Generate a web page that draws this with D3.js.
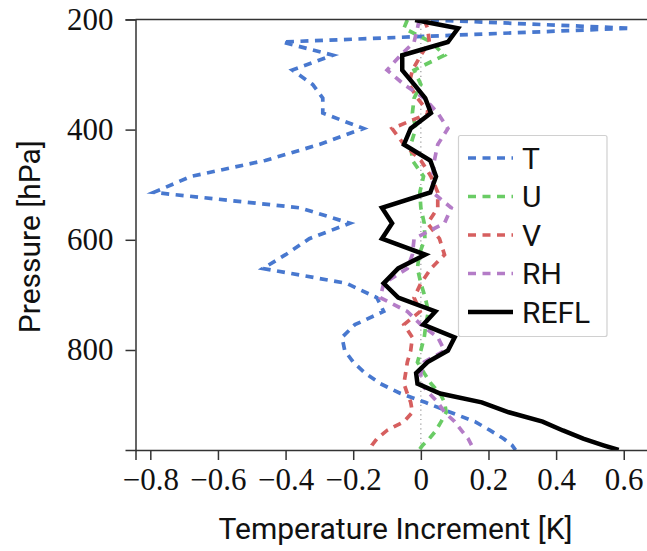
<!DOCTYPE html>
<html>
<head>
<meta charset="utf-8">
<script src="https://cdn.jsdelivr.net/npm/d3@7"></script>
<style>
  html, body { margin: 0; padding: 0; background: #fff; }
  svg { display: block; }
</style>
</head>
<body>
<div id="chart"></div>
<script>
// ---- data ----
const pressure = [201, 216, 241, 265, 292, 318, 343, 370, 398, 427, 456, 485, 514, 542, 570, 598, 627, 652, 679, 705, 730, 754, 777, 801, 822, 842, 861, 879, 895, 913, 930, 946, 961, 973, 981.5];
const T    = [0.03, 0.62, -0.41, -0.26, -0.38, -0.32, -0.29, -0.29, -0.17, -0.30, -0.46, -0.68, -0.79, -0.357, -0.21, -0.33, -0.40, -0.467, -0.22, -0.13, -0.11, -0.195, -0.233, -0.225, -0.20, -0.165, -0.12, -0.06, 0.013, 0.087, 0.16, 0.205, 0.245, 0.27, 0.28];
const U    = [-0.04, -0.05, 0.03, 0.07, -0.02, 0.0, -0.02, -0.025, -0.015, -0.03, -0.025, 0.008, -0.003, 0.0, 0.01, 0.012, -0.005, -0.01, 0.0, 0.013, 0.022, 0.015, 0.01, 0.0, -0.01, 0.01, 0.03, 0.057, 0.07, 0.075, 0.06, 0.045, 0.025, 0.005, -0.005];
const V    = [0.01, 0.02, 0.025, 0.0, -0.025, -0.035, -0.01, 0.025, -0.085, -0.05, 0.0, 0.03, 0.05, 0.05, 0.02, 0.055, 0.07, 0.03, 0.0, -0.02, -0.002, -0.05, -0.025, -0.03, -0.04, -0.045, -0.05, -0.04, -0.03, -0.025, -0.05, -0.10, -0.13, -0.145, -0.15];
const RH   = [-0.005, -0.01, -0.02, -0.06, -0.10, -0.05, 0.01, 0.05, 0.08, 0.05, 0.04, 0.035, 0.035, 0.09, 0.07, -0.02, -0.025, -0.04, -0.11, -0.12, -0.04, 0.0, 0.05, 0.07, 0.01, 0.0, 0.0, 0.025, 0.05, 0.07, 0.10, 0.12, 0.14, 0.15, 0.15];
const REFL = [-0.017, 0.11, 0.08, -0.055, -0.055, -0.02, 0.013, 0.03, -0.03, -0.05, 0.028, 0.045, 0.028, -0.115, -0.085, -0.115, 0.013, -0.067, -0.11, -0.067, 0.043, 0.007, 0.10, 0.08, 0.02, -0.014, -0.01, 0.057, 0.18, 0.26, 0.36, 0.42, 0.48, 0.54, 0.585];
const seriesNames = ["T", "U", "V", "RH", "REFL"];
const xTicks = [-0.8, -0.6, -0.4, -0.2, 0, 0.2, 0.4, 0.6];
const yTicks = [200, 400, 600, 800];

// ---- layout ----
const W = 647, H = 551;
const mLeft = 135.5, mTop = 19.4, mBottom = 450;
const svg = d3.select("#chart").append("svg").attr("width", W).attr("height", H);

const x = d3.scaleLinear().domain([-0.8438, 0.68]).range([mLeft, 650.8]);
const y = d3.scaleLinear().domain([200, 981.5]).range([mTop, mBottom]);

const colors = { T: "#4878CF", U: "#6ACC65", V: "#D65F5F", RH: "#B47CC7", REFL: "#000000" };
const dataBy = { T, U, V, RH, REFL };
const dash = "8,6.5";

svg.append("defs").append("clipPath").attr("id", "clip")
  .append("rect").attr("x", mLeft).attr("y", mTop).attr("width", W - mLeft).attr("height", mBottom - mTop);

// zero reference line
svg.append("line")
  .attr("x1", x(0)).attr("x2", x(0)).attr("y1", mTop).attr("y2", mBottom)
  .attr("stroke", "#999").attr("stroke-width", 1.2).attr("stroke-dasharray", "1.2,3.5");

const line = d3.line().x(d => x(d[0])).y(d => y(d[1]));
const g = svg.append("g").attr("clip-path", "url(#clip)");
seriesNames.forEach(name => {
  const pts = dataBy[name].map((v, i) => [v, pressure[i]]);
  const p = g.append("path").datum(pts).attr("d", line)
    .attr("fill", "none").attr("stroke", colors[name])
    .attr("stroke-linejoin", "miter");
  if (name === "REFL") p.attr("stroke-width", 4.5);
  else p.attr("stroke-width", 3.7).attr("stroke-dasharray", dash);
});

// axes
const xAxis = d3.axisBottom(x).tickValues(xTicks).tickSize(10).tickPadding(6)
  .tickFormat(d => d === 0 ? "0" : (d < 0 ? "\u2212" : "") + Math.abs(d).toFixed(1));
const yAxis = d3.axisLeft(y).tickValues(yTicks).tickSize(10).tickPadding(12).tickFormat(d3.format("d"));

const gx = svg.append("g").attr("transform", `translate(0,${mBottom})`).call(xAxis);
const gy = svg.append("g").attr("transform", `translate(${mLeft},0)`).call(yAxis);
[gx, gy].forEach(a => {
  a.select(".domain").attr("stroke", "#333").attr("stroke-width", 1.5);
  a.selectAll(".tick line").attr("stroke", "#333").attr("stroke-width", 1.5);
  a.selectAll(".tick text").attr("fill", "#111")
    .style("font-family", "'Liberation Serif', 'DejaVu Serif', serif").style("font-size", "31px");
});
gx.selectAll(".tick text").attr("dy", "0.76em");
// top spine
svg.append("line").attr("x1", mLeft).attr("x2", W).attr("y1", mTop).attr("y2", mTop)
  .attr("stroke", "#333").attr("stroke-width", 1.5);

// axis titles
svg.append("text").attr("x", (208 + 583) / 2).attr("y", 539).attr("text-anchor", "middle")
  .style("font-family", "Roboto, sans-serif").style("font-size", "30px").attr("fill", "#111")
  .text("Temperature Increment [K]");
svg.append("text").attr("transform", `translate(40,${(mTop + mBottom) / 2 + 2}) rotate(-90)`)
  .attr("text-anchor", "middle")
  .style("font-family", "Roboto, sans-serif").style("font-size", "30px").attr("fill", "#111")
  .text("Pressure [hPa]");

// legend
const lg = svg.append("g");
lg.append("rect").attr("x", 458.5).attr("y", 135.5).attr("width", 148.5).attr("height", 201)
  .attr("rx", 2).attr("fill", "rgba(255,255,255,0.85)").attr("stroke", "#d0d0d0").attr("stroke-width", 1.2);
seriesNames.forEach((name, i) => {
  const yy = 158 + i * 38.5;
  const l = lg.append("line").attr("x1", 468).attr("x2", 513).attr("y1", yy).attr("y2", yy)
    .attr("stroke", colors[name]);
  if (name === "REFL") l.attr("stroke-width", 4.5);
  else l.attr("stroke-width", 3.7).attr("stroke-dasharray", dash);
  lg.append("text").attr("x", 522).attr("y", yy).attr("dy", "0.36em")
    .style("font-family", "Roboto, sans-serif").style("font-size", "30px").attr("fill", "#111")
    .text(name);
});
</script>
</body>
</html>
